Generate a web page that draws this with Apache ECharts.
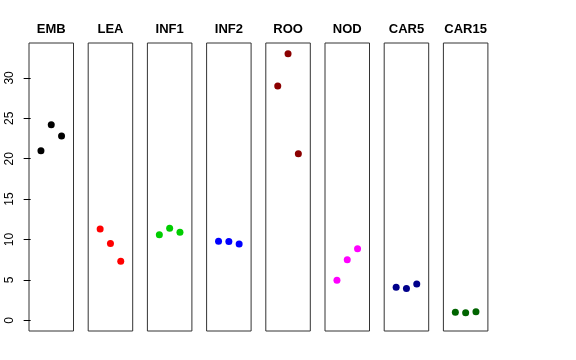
<!DOCTYPE html>
<html><head><meta charset="utf-8">
<script src="https://cdn.jsdelivr.net/npm/echarts@6/dist/echarts.min.js"></script>
<style>html,body{margin:0;padding:0;background:#fff}#c{width:576px;height:360px}</style>
</head><body><div id="c"></div>
<script>
const categories = ["EMB","LEA","INF1","INF2","ROO","NOD","CAR5","CAR15"];
const colors = ["#000000","#FF0000","#00CD00","#0000FF","#8B0000","#FF00FF","#00008B","#006400"];
const EMB = [21.0, 24.2, 22.8];
const LEA = [11.3, 9.5, 7.3];
const INF1 = [10.6, 11.4, 10.9];
const INF2 = [9.8, 9.75, 9.45];
const ROO = [29.0, 33.0, 20.6];
const NOD = [4.95, 7.5, 8.85];
const CAR5 = [4.1, 3.95, 4.5];
const CAR15 = [1.0, 0.95, 1.05];
const yTicks = [0, 5, 10, 15, 20, 25, 30];
const values = [EMB, LEA, INF1, INF2, ROO, NOD, CAR5, CAR15];

const left0 = 29, pitch = 59.2, pw = 44.5, gTop = 43, ph = 288;
const ymin = -1.32, ymax = 34.32;
const grids = [], xAxes = [], yAxes = [], series = [];
categories.forEach((cat, i) => {
  const l = left0 + i * pitch;
  grids.push({left: l, top: gTop, width: pw, height: ph, show: true, borderColor: '#333', borderWidth: 1, backgroundColor: 'transparent'});
  xAxes.push({gridIndex: i, type: 'value', min: -0.16, max: 4.16, show: false});
  yAxes.push({
    gridIndex: i, type: 'value', min: ymin, max: ymax, show: i === 0,
    splitLine: {show: false},
    axisLine: {show: false},
    axisTick: {show: true, length: 7, lineStyle: {color: '#000'}, customValues: yTicks},
    axisLabel: {show: false}
  });
  series.push({
    type: 'scatter', xAxisIndex: i, yAxisIndex: i, symbolSize: 7,
    itemStyle: {color: colors[i], opacity: 1},
    data: values[i].map((v, j) => [j + 1, v]),
    silent: true
  });
});
const chart = echarts.init(document.getElementById('c'), null, {renderer: 'canvas'});
chart.setOption({
  animation: false,
  grid: grids, xAxis: xAxes, yAxis: yAxes, series: series
});
const g = [];
categories.forEach((cat, i) => {
  const cx = chart.convertToPixel({xAxisIndex: i}, 2);
  g.push({type: 'text', x: cx, y: 29.5, silent: true,
    style: {text: cat, align: 'center', verticalAlign: 'middle', fill: '#000',
      font: 'bold 13px "Liberation Sans", Arial, sans-serif'}});
});
yTicks.forEach(v => {
  const py = chart.convertToPixel({yAxisIndex: 0}, v);
  g.push({type: 'text', x: 10, y: py, rotation: Math.PI / 2, silent: true,
    style: {text: String(v), align: 'center', verticalAlign: 'middle', fill: '#000',
      font: '12px "Liberation Sans", Arial, sans-serif'}});
});
chart.setOption({graphic: g});
</script></body></html>
